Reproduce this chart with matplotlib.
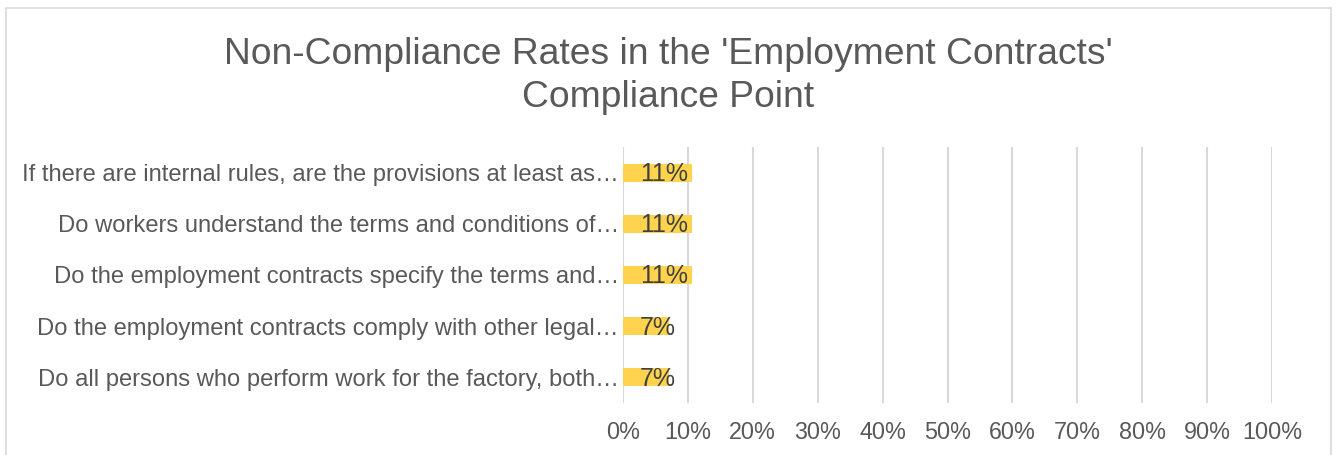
import matplotlib.pyplot as plt
from matplotlib.patches import Rectangle
from matplotlib.ticker import PercentFormatter

plt.rcParams['font.family'] = ['Liberation Sans', 'DejaVu Sans']

# categories listed top to bottom, as in the chart
questions = [
    "If there are internal rules, are the provisions at least as\u2026",
    "Do workers understand the terms and conditions of\u2026",
    "Do the employment contracts specify the terms and\u2026",
    "Do the employment contracts comply with other legal\u2026",
    "Do all persons who perform work for the factory, both\u2026",
]
rates = [0.107, 0.107, 0.107, 0.071, 0.071]
rate_labels = ["11%", "11%", "11%", "7%", "7%"]
x_ticks = [0, 0.1, 0.2, 0.3, 0.4, 0.5, 0.6, 0.7, 0.8, 0.9, 1.0]

title = "Non-Compliance Rates in the 'Employment Contracts'\nCompliance Point"

text_grey = '#595959'
grid_grey = '#d9d9d9'
bar_yellow = '#ffd34e'

fig = plt.figure(figsize=(13.37, 4.55), dpi=100)
ax = fig.add_axes([623 / 1337, 1 - 403 / 455, (1272 - 623) / 1337, (403 - 147) / 455])

# chart frame
fig.patches.append(Rectangle((6 / 1337, -0.02), (1331 - 6) / 1337, 1 - 8 / 455 + 0.02,
                             transform=fig.transFigure, fill=False,
                             edgecolor=grid_grey, linewidth=1.2))

ypos = list(range(len(questions)))
ax.barh(ypos, rates, height=0.35, color=bar_yellow, zorder=2)
for y, v, lab in zip(ypos, rates, rate_labels):
    ax.annotate(lab, (0, y), xytext=(12, -1), textcoords='offset points',
                ha='left', va='center', fontsize=18, color='#404040', zorder=3)

ax.set_xlim(0, 1.0)
ax.set_ylim(len(questions) - 0.5, -0.5)
ax.set_yticks(ypos)
ax.set_yticklabels(questions, fontsize=17.1, color=text_grey)
ax.set_xticks(x_ticks)
ax.xaxis.set_major_formatter(PercentFormatter(1.0, decimals=0))
ax.tick_params(axis='x', labelsize=16.8, labelcolor=text_grey, length=0, pad=13)
ax.tick_params(axis='y', length=0, pad=3)
ax.grid(axis='x', color=grid_grey, linewidth=1.5, zorder=0)
ax.set_axisbelow(True)
for s in ax.spines.values():
    s.set_visible(False)

fig.text(0.5, 1 - 76 / 455, title, ha='center', va='center', fontsize=26.8,
         color=text_grey, linespacing=1.28)

fig.savefig('out.png', dpi=100)
